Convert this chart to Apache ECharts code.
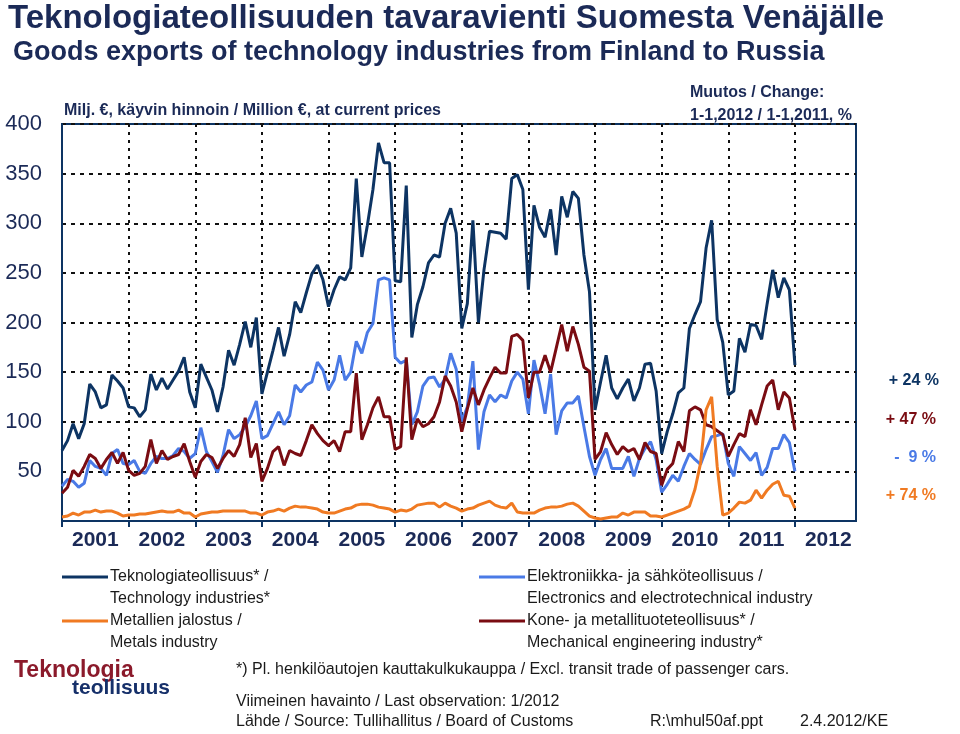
<!DOCTYPE html>
<html>
<head>
<meta charset="utf-8">
<script src="https://cdn.jsdelivr.net/npm/echarts@6/dist/echarts.min.js"></script>
<style>
html,body{margin:0;padding:0;background:#fff;}
#chart{width:960px;height:734px;}
</style>
</head>
<body>
<div id="chart"></div>
<script>
const years = ['2001','2002','2003','2004','2005','2006','2007','2008','2009','2010','2011','2012'];
const yTicks = [0, 50, 100, 150, 200, 250, 300, 350, 400];

// Technology industries* (navy)
const tech = [
  71, 81, 98, 83, 98, 138, 130, 114, 117, 147, 141, 134,
  115, 114, 105, 112, 148, 132, 144, 133, 142, 151, 165, 130,
  114, 158, 145, 132, 110, 135, 172, 157, 178, 201, 175, 205,
  128, 150, 172, 195, 166, 188, 221, 210, 230, 249, 258, 243,
  216, 233, 246, 243, 255, 345, 266, 298, 334, 381, 361, 361,
  242, 241, 338, 185, 218, 236, 260, 268, 266, 300, 315, 290,
  194, 219, 303, 200, 253, 292, 291, 290, 284, 345, 349, 334,
  233, 318, 296, 286, 314, 268, 327, 306, 332, 325, 268, 231,
  112, 140, 167, 134, 123, 134, 143, 121, 134, 158, 159, 131,
  68, 90, 108, 129, 134, 194, 208, 221, 275, 303, 203, 180,
  127, 131, 184, 170, 198, 197, 183, 219, 253, 225, 245, 233,
  157
];
// Electronics and electrotechnical industry (light blue)
const elec = [
  35, 42, 40, 34, 38, 61, 55, 53, 46, 68, 72, 58,
  57, 61, 50, 48, 58, 65, 63, 63, 66, 73, 70, 63,
  68, 94, 70, 60, 49, 66, 92, 83, 87, 95, 106, 121,
  83, 86, 98, 110, 97, 106, 137, 130, 137, 140, 160, 152,
  132, 142, 167, 142, 150, 181, 169, 190, 199, 243, 245, 243,
  165, 159, 162, 97, 110, 136, 144, 145, 135, 143, 169, 153,
  100, 115, 161, 72, 110, 127, 120, 127, 124, 141, 150, 143,
  108, 162, 138, 108, 148, 87, 111, 119, 119, 126, 95, 65,
  46, 62, 73, 53, 53, 53, 65, 45, 63, 73, 80, 62,
  29, 37, 46, 40, 55, 68, 62, 57, 72, 85, 86, 88,
  58, 45, 75, 68, 61, 69, 46, 54, 73, 73, 87, 79,
  50
];
// Metals industry (orange)
const metals = [
  4, 5, 8, 6, 9, 9, 11, 9, 10, 10, 8, 5,
  6, 6, 7, 7, 8, 9, 10, 9, 9, 11, 8, 8,
  4, 7, 8, 9, 9, 10, 10, 10, 10, 10, 8, 8,
  6, 9, 10, 12, 10, 13, 15, 14, 14, 13, 12, 9,
  8, 8, 10, 12, 13, 16, 17, 17, 16, 14, 13, 12,
  9, 11, 10, 12, 16, 17, 18, 18, 14, 18, 15, 13,
  10, 12, 13, 16, 18, 20, 16, 14, 13, 18, 9, 8,
  8, 8, 11, 13, 14, 14, 15, 17, 18, 15, 10, 5,
  3, 2, 3, 4, 4, 8, 6, 9, 9, 9, 5, 5,
  4, 6, 8, 10, 12, 15, 32, 58, 112, 125, 55, 6,
  8, 13, 19, 18, 21, 31, 23, 31, 37, 40, 26, 25,
  13
];
// Mechanical engineering industry* (dark red)
const mech = [
  28, 34, 51, 45, 55, 67, 63, 53, 62, 69, 58, 69,
  51, 46, 48, 55, 82, 58, 71, 62, 65, 67, 78, 60,
  44, 60, 67, 64, 53, 63, 71, 65, 77, 104, 64, 78,
  40, 53, 70, 75, 56, 71, 68, 66, 81, 97, 88, 81,
  76, 81, 70, 90, 90, 149, 82, 97, 114, 125, 105, 105,
  72, 75, 165, 82, 103, 95, 98, 105, 120, 146, 136, 120,
  90, 113, 134, 117, 132, 144, 155, 149, 149, 186, 188, 182,
  124, 150, 150, 167, 150, 174, 198, 171, 196, 178, 155, 151,
  62, 70, 89, 77, 67, 75, 70, 73, 62, 79, 70, 68,
  36, 52, 58, 80, 70, 111, 115, 112, 97, 95, 91, 87,
  65, 77, 88, 85, 112, 97, 117, 136, 142, 112, 130, 124,
  92
];
const changes = ['+ 24 %', '+ 47 %', '-  9 %', '+ 74 %'];
const seriesNames = [
  ['Teknologiateollisuus* /', 'Technology industries*'],
  ['Elektroniikka- ja sähköteollisuus /', 'Electronics and electrotechnical industry'],
  ['Metallien jalostus /', 'Metals industry'],
  ['Kone- ja metallituoteteollisuus* /', 'Mechanical engineering industry*']
];

const months = [];
years.forEach(y => { for (let m = 1; m <= 12; m++) months.push(y + '-' + m); });

const NAVY = '#0d3463';
const BLUE = '#4a7ae6';
const ORANGE = '#f07a22';
const RED = '#7a0c12';
const TXT = '#1b2a57';
const FONT = 'Arial, "Liberation Sans", Helvetica, sans-serif';

const chart = echarts.init(document.getElementById('chart'), null, {renderer: 'canvas'});

function t(x, y, s, opt) {
  return {type: 'text', x: x, y: y, style: Object.assign({text: s, fontFamily: FONT, fontSize: 16, fill: '#1a1a1a', textVerticalAlign: 'middle'}, opt || {})};
}
function legLine(x, y, color) {
  return {type: 'line', shape: {x1: x, y1: y, x2: x + 46, y2: y}, style: {stroke: color, lineWidth: 3}};
}

const graphics = [
  t(8, 19, 'Teknologiateollisuuden tavaravienti Suomesta Venäjälle', {fontSize: 33, fontWeight: 'bold', fill: TXT}),
  t(13, 53, 'Goods exports of technology industries from Finland to Russia', {fontSize: 27, fontWeight: 'bold', fill: TXT}),
  t(64, 111, 'Milj. €, käyvin hinnoin / Million €, at current prices', {fontWeight: 'bold', fill: TXT}),
  t(690, 93, 'Muutos / Change:', {fontWeight: 'bold', fill: TXT}),
  t(690, 116, '1-1,2012 / 1-1,2011, %', {fontWeight: 'bold', fill: TXT}),
  t(939, 381, changes[0], {fontWeight: 'bold', fill: NAVY, textAlign: 'right'}),
  t(936, 420, changes[1], {fontWeight: 'bold', fill: RED, textAlign: 'right'}),
  t(936, 458, changes[2], {fontWeight: 'bold', fill: BLUE, textAlign: 'right'}),
  t(936, 496, changes[3], {fontWeight: 'bold', fill: ORANGE, textAlign: 'right'}),
  // legend
  legLine(62, 577, NAVY),
  t(110, 577, seriesNames[0][0]),
  t(110, 599, seriesNames[0][1]),
  legLine(62, 621, ORANGE),
  t(110, 621, seriesNames[2][0]),
  t(110, 643, seriesNames[2][1]),
  legLine(479, 577, BLUE),
  t(527, 577, seriesNames[1][0]),
  t(527, 599, seriesNames[1][1]),
  legLine(479, 621, RED),
  t(527, 621, seriesNames[3][0]),
  t(527, 643, seriesNames[3][1]),
  // logo
  t(14, 671, 'Teknologia', {fontSize: 23, fontWeight: 'bold', fill: '#8b1a2b'}),
  t(72, 688, 'teollisuus', {fontSize: 21, fontWeight: 'bold', fill: '#16306a'}),
  // footnotes
  t(236, 670, '*) Pl. henkilöautojen kauttakulkukauppa / Excl. transit trade of passenger cars.'),
  t(236, 702, 'Viimeinen havainto / Last observation: 1/2012'),
  t(236, 722, 'Lähde / Source: Tullihallitus / Board of Customs'),
  t(650, 722, 'R:\\mhul50af.ppt'),
  t(800, 722, '2.4.2012/KE')
];

const option = {
  backgroundColor: '#ffffff',
  animation: false,
  grid: {left: 62, right: 104, top: 124, bottom: 213, show: true, borderColor: NAVY, borderWidth: 2, backgroundColor: 'transparent'},
  xAxis: {
    type: 'category',
    data: months,
    boundaryGap: false,
    axisLine: {show: true, lineStyle: {color: NAVY, width: 2}},
    axisTick: {show: true, interval: (i) => i % 12 === 0, length: 6, lineStyle: {color: NAVY, width: 2}},
    axisLabel: {
      interval: (i) => i % 12 === 6,
      formatter: (v) => v.slice(0, 4),
      fontFamily: FONT, fontSize: 21, fontWeight: 'bold', color: TXT, margin: 9
    },
    splitLine: {show: true, interval: (i) => i % 12 === 0 && i > 0, lineStyle: {color: '#111', width: 2, type: [3, 5]}}
  },
  yAxis: {
    type: 'value',
    min: yTicks[0], max: yTicks[yTicks.length - 1], interval: 50,
    axisLine: {show: true, lineStyle: {color: NAVY, width: 2}},
    axisTick: {show: false},
    axisLabel: {formatter: (v) => (v === 0 ? '' : String(v)), fontFamily: FONT, fontSize: 22, color: TXT, margin: 20},
    splitLine: {show: true, lineStyle: {color: '#111', width: 2, type: [4, 5]}}
  },
  series: [
    {name: seriesNames[1][1], type: 'line', data: elec, showSymbol: false, lineStyle: {color: BLUE, width: 3}, itemStyle: {color: BLUE}, z: 2},
    {name: seriesNames[3][1], type: 'line', data: mech, showSymbol: false, lineStyle: {color: RED, width: 3}, itemStyle: {color: RED}, z: 3},
    {name: seriesNames[2][1], type: 'line', data: metals, showSymbol: false, lineStyle: {color: ORANGE, width: 3}, itemStyle: {color: ORANGE}, z: 4},
    {name: seriesNames[0][1], type: 'line', data: tech, showSymbol: false, lineStyle: {color: NAVY, width: 3}, itemStyle: {color: NAVY}, z: 5}
  ],
  graphic: graphics
};
chart.setOption(option);
</script>
</body>
</html>
